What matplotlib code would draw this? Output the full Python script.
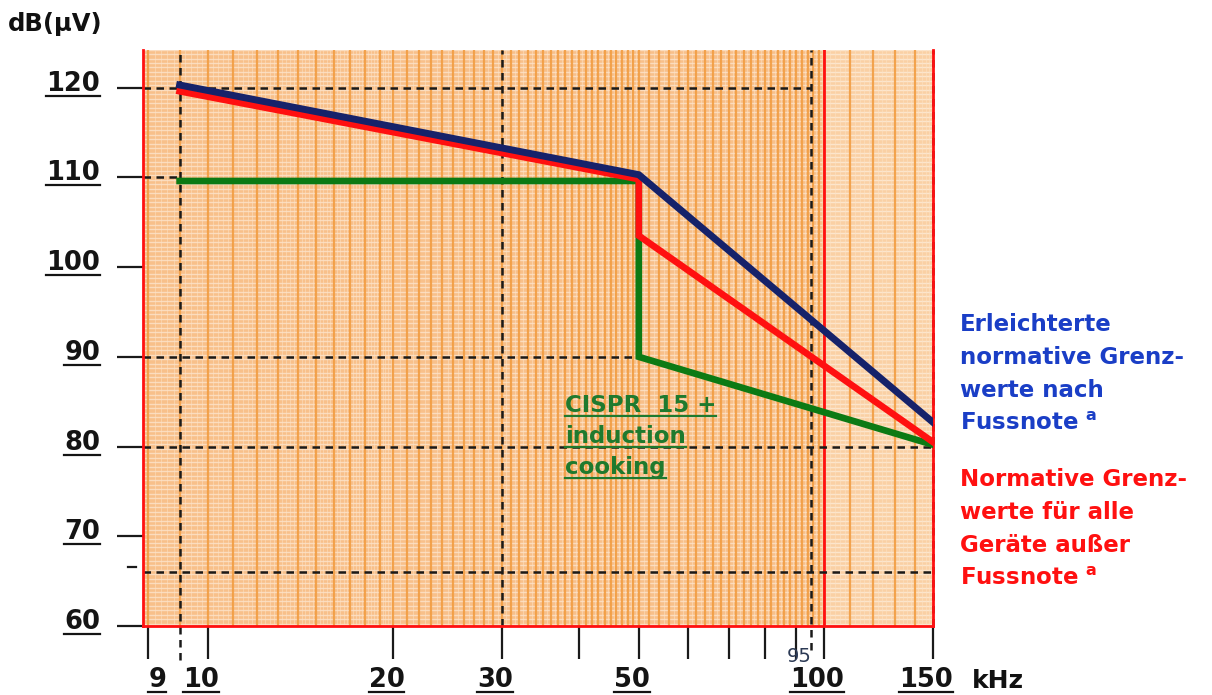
import numpy as np
import matplotlib
matplotlib.use('Agg')
import matplotlib.pyplot as plt
import matplotlib.transforms as mtransforms
from matplotlib.lines import Line2D

# ---------------- data ----------------
freq_blue = [9, 50, 150]
level_blue = [120.3, 110.3, 82.7]
freq_red = [9, 50, 50, 150]
level_red = [119.6, 109.8, 103.5, 80.5]
freq_green = [9, 50, 50, 150]
level_green = [109.6, 109.6, 90.0, 80.2]

y_ticks = [60, 70, 80, 90, 100, 110, 120]
y_ticklabels = ['60', '70', '80', '90', '100', '110', '120']
x_ticks = [8, 10, 20, 30, 40, 50, 60, 70, 80, 90, 100, 150]
x_labels = ['9', '10', '20', '30', '50', '100', '150']
x_label_freqs = [8, 10, 20, 30, 50, 100, 150]

blue_lines = ["Erleichterte", "normative Grenz-", "werte nach", "Fussnote $^{\\mathbf{a}}$"]
red_lines = ["Normative Grenz-", "werte für alle", "Geräte außer", "Fussnote $^{\\mathbf{a}}$"]
green_lines = ['CISPR  15 +', 'induction', 'cooking']

# ---------------- style ----------------
plt.rcParams['font.family'] = ['DejaVu Sans']
plt.rcParams['mathtext.fontset'] = 'dejavusans'

NAVY = '#16226a'
RED = '#ff1010'
GREEN = '#0c7a14'
TXT_BLUE = '#1a3ec6'
TXT_GREEN = '#1f7a2e'

W, H = 1212, 695
fig = plt.figure(figsize=(W / 100, H / 100), dpi=100)
ax = fig.add_axes([143 / W, 1 - 626 / H, (933 - 143) / W, (626 - 50) / H])
XMIN, XMAX, YMIN, YMAX = 7.85, 150, 60, 124.2
ax.set_xscale('log')
ax.set_xlim(XMIN, XMAX)
ax.set_ylim(YMIN, YMAX)

# graph-paper background
ax.set_facecolor('#f8c08a')
ax.axvspan(100, 150, color='#fad0a4', zorder=0.1, lw=0)
for yv in np.arange(60, 124.5, 0.5):
    ax.axhline(yv + 0.25, color='white', lw=1.0, alpha=0.45, zorder=0.2)
minor_v = np.concatenate([np.arange(8, 20, 0.2), np.arange(20, 50, 0.5),
                          np.arange(50, 100, 1.0), np.arange(100, 150, 2.0)])
for xv in minor_v:
    ax.axvline(xv, color='#fde2c4', lw=0.6, alpha=0.6, zorder=0.25)
major_v = np.concatenate([np.arange(8, 20, 1.0), np.arange(20, 50, 1.0),
                          np.arange(50, 100, 2.0), np.arange(100, 150, 10.0)])
for xv in major_v:
    ax.axvline(xv, color='#f19a3c', lw=1.6, alpha=0.85, zorder=0.3)

# spines
ax.spines['top'].set_visible(False)
for s in ['left', 'bottom', 'right']:
    ax.spines[s].set_color(RED)
    ax.spines[s].set_linewidth(2)
ax.axvline(100, color=RED, lw=2, zorder=1)

# dashed reference lines
dkw = dict(color='#1a1a1a', lw=1.8, dashes=(3, 2.2), zorder=2)
ax.plot([XMIN, 95], [120, 120], **dkw)
ax.plot([XMIN, 9], [110, 110], **dkw)
ax.plot([XMIN, 50], [90, 90], **dkw)
ax.plot([XMIN, 150], [80, 80], **dkw)
ax.plot([XMIN, 150], [66, 66], **dkw)
ax.plot([9, 9], [56.2, YMAX], clip_on=False, **dkw)
ax.plot([30, 30], [YMIN, YMAX], **dkw)
ax.plot([95, 95], [57.3, YMAX], clip_on=False, **dkw)
ax.plot([150, 150], [YMIN, YMAX], clip_on=False, **dkw)

# limit lines
ax.plot(freq_green, level_green, color=GREEN, lw=4.8, zorder=3, solid_joinstyle='miter')
ax.plot(freq_red, level_red, color=RED, lw=4.8, zorder=4, solid_joinstyle='miter')
ax.plot(freq_blue, level_blue, color=NAVY, lw=5.0, zorder=5, solid_joinstyle='miter')

# ticks
ax.set_xticks(x_ticks)
ax.set_xticklabels([])
ax.xaxis.set_minor_locator(matplotlib.ticker.NullLocator())
ax.tick_params(axis='x', which='major', direction='out', length=24, width=1.6,
               color='#1a1a1a')
ax.set_yticks(y_ticks)
ax.set_yticklabels([])
ax.tick_params(axis='y', which='major', direction='out', length=19, width=1.6,
               color='#1a1a1a')
ax.add_line(Line2D([-15 / 790, -7 / 790], [66.6, 66.6],
                   transform=mtransforms.blended_transform_factory(ax.transAxes, ax.transData),
                   color='#1a1a1a', lw=1.6, clip_on=False))

under = []
# y labels
for v, lab in zip(y_ticks, y_ticklabels):
    t = ax.annotate(lab, xy=(0, v), xycoords=('axes fraction', 'data'),
                    xytext=(-43, 4), textcoords='offset pixels', ha='right', va='center',
                    fontsize=18.5, fontweight='bold', color='#141414')
    under.append((t, '#141414'))
# x labels
for f, lab in zip(x_label_freqs, x_labels):
    dx = 9 if lab == '9' else -7
    t = ax.annotate(lab, xy=(f, 0), xycoords=('data', 'axes fraction'),
                    xytext=(dx, -54), textcoords='offset pixels', ha='center', va='center',
                    fontsize=18.5, fontweight='bold', color='#141414')
    under.append((t, '#141414'))
ax.annotate('95', xy=(95, 0), xycoords=('data', 'axes fraction'),
            xytext=(-11, -30), textcoords='offset pixels', ha='center', va='center',
            fontsize=14, color='#2c3a55')

fig.text(8 / W, 1 - 24 / H, 'dB(µV)', fontsize=17.5, fontweight='bold', color='#111111',
         ha='left', va='center')
fig.text(972 / W, 1 - 681 / H, 'kHz', fontsize=18, fontweight='bold', color='#111111',
         ha='left', va='center')

for i, line in enumerate(blue_lines):
    fig.text(960 / W, 1 - (331 + 33 * i) / H, line, fontsize=16.5, fontweight='bold',
             color=TXT_BLUE, ha='left', va='baseline')
for i, line in enumerate(red_lines):
    fig.text(960 / W, 1 - (486 + 33 * i) / H, line, fontsize=16.5, fontweight='bold',
             color=RED, ha='left', va='baseline')

# green annotation, underlined line by line
for i, line in enumerate(green_lines):
    t = fig.text(565 / W, 1 - (412 + 31 * i) / H, line, fontsize=16.5, fontweight='bold',
                 color=TXT_GREEN, ha='left', va='baseline', zorder=6)
    under.append((t, TXT_GREEN))

fig.canvas.draw()
renderer = fig.canvas.get_renderer()
for t, c in under:
    bb = t.get_window_extent(renderer)
    fig.add_artist(Line2D([bb.x0, bb.x1], [bb.y0 + 1, bb.y0 + 1],
                          transform=mtransforms.IdentityTransform(), color=c, lw=1.6, zorder=7))

fig.savefig('out.png', dpi=100)
